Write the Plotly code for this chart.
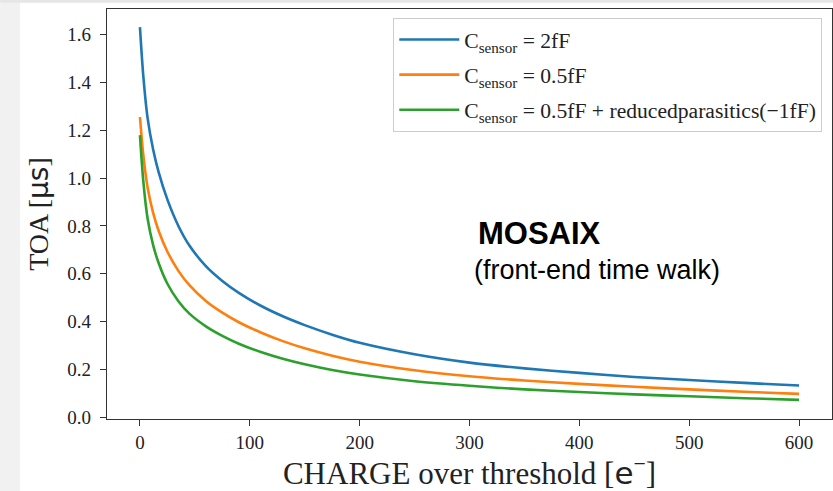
import plotly.graph_objects as go

# charge over threshold [e-]
charge = [0, 3, 7, 12, 17, 25, 35, 45, 60, 75, 90, 110, 130, 150, 175, 200,
          250, 300, 350, 400, 450, 500, 550, 600]
# TOA [us]
toa_2ff = [1.632, 1.43, 1.25, 1.12, 1.025, 0.91, 0.80, 0.718, 0.632, 0.570, 0.520,
           0.466, 0.422, 0.385, 0.345, 0.311, 0.263, 0.228, 0.204, 0.185, 0.168,
           0.155, 0.143, 0.132]
toa_05ff = [1.256, 1.10, 0.96, 0.855, 0.78, 0.692, 0.612, 0.552, 0.486, 0.437, 0.397,
            0.354, 0.318, 0.288, 0.257, 0.232, 0.196, 0.171, 0.153, 0.139, 0.127,
            0.116, 0.106, 0.097]
toa_05ff_red = [1.180, 0.99, 0.83, 0.72, 0.645, 0.558, 0.485, 0.433, 0.380, 0.340,
                0.307, 0.272, 0.244, 0.221, 0.197, 0.178, 0.150, 0.131, 0.116,
                0.105, 0.095, 0.087, 0.079, 0.072]

series_names = ["C<sub>sensor</sub> = 2fF",
                "C<sub>sensor</sub> = 0.5fF",
                "C<sub>sensor</sub> = 0.5fF + reducedparasitics(\u22121fF)"]
series_colors = ["#1f77b4", "#ff7f0e", "#2ca02c"]
x_ticks = [0, 100, 200, 300, 400, 500, 600]
y_ticks = [0.0, 0.2, 0.4, 0.6, 0.8, 1.0, 1.2, 1.4, 1.6]

SERIF = "Liberation Serif, Times New Roman, serif"
SANS = "Liberation Sans, Arial, sans-serif"

fig = go.Figure()
for i, (vals, name, col) in enumerate(zip([toa_2ff, toa_05ff, toa_05ff_red],
                                           series_names, series_colors)):
    fig.add_trace(go.Scatter(
        x=charge, y=vals, mode="lines", name=name, legendgroup=f"g{i}",
        line=dict(color=col, width=2.6, shape="spline", smoothing=0.8),
    ))

axis_common = dict(
    showline=True, mirror=True, linecolor="#333333", linewidth=1.3,
    ticks="outside", ticklen=6, tickwidth=1.3, tickcolor="#333333",
    showgrid=False, zeroline=False,
    tickfont=dict(family=SERIF, size=19, color="#222222"),
)

fig.update_layout(
    width=833, height=491,
    margin=dict(l=107, r=1, t=9, b=72),
    paper_bgcolor="white", plot_bgcolor="white",
    showlegend=True,
    legend=dict(
        x=0.9866, y=0.978, xanchor="right", yanchor="top",
        bgcolor="rgba(255,255,255,0.85)", bordercolor="#cccccc", borderwidth=1,
        font=dict(family=SERIF, size=21.6, color="#222222"),
        tracegroupgap=4, traceorder="grouped", itemwidth=60,
    ),
    xaxis=dict(range=[-30, 630], tickvals=x_ticks,
               ticktext=[str(v) for v in x_ticks],
               title=dict(text="CHARGE over threshold [<span style='font-family:DejaVu Sans'>e</span><sup>\u2212</sup>]",
                          font=dict(family=SERIF, size=31, color="#222222"),
                          standoff=8),
               **axis_common),
    yaxis=dict(range=[-0.008, 1.708], tickvals=y_ticks,
               ticktext=[f"{v:.1f}" for v in y_ticks],
               ticklabelstandoff=5,
               title=dict(text="TOA [<span style='font-family:DejaVu Sans'>\u03bcs</span>]",
                          font=dict(family=SERIF, size=28, color="#222222"),
                          standoff=10),
               **axis_common),
    shapes=[
        dict(type="rect", xref="paper", yref="paper", x0=-0.1474, x1=-0.1199,
             y0=-0.18, y1=1.03, fillcolor="#f1f1f1", line_width=0, layer="below"),
        dict(type="rect", xref="paper", yref="paper", x0=-0.1474, x1=1.01,
             y0=1.015, y1=1.03, fillcolor="#e6e6e6", line_width=0, layer="below"),
    ],
)

fig.add_annotation(x=306, y=0.767, xref="x", yref="y", text="<b>MOSAIX</b>",
                   showarrow=False, xanchor="left", yanchor="middle",
                   font=dict(family=SANS, size=31, color="black"))
fig.add_annotation(x=302, y=0.617, xref="x", yref="y", text="(front-end time walk)",
                   showarrow=False, xanchor="left", yanchor="middle",
                   font=dict(family=SANS, size=27, color="black"))

fig.write_html("out.html")
